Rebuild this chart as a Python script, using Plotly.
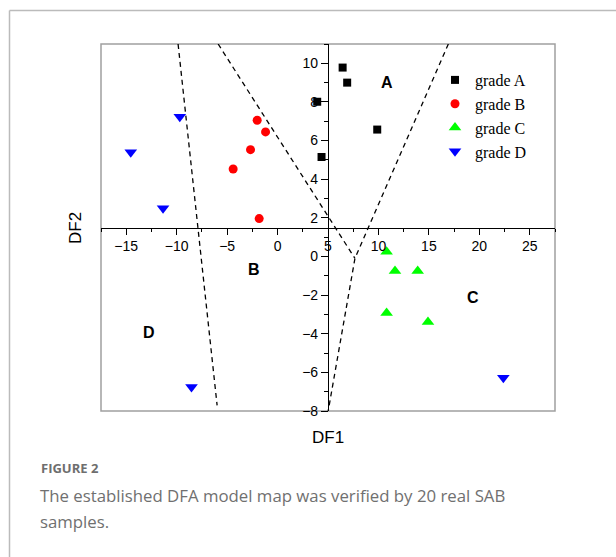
import plotly.graph_objects as go

# ---- data ----
gradeA_x = [6.45, 6.9, 3.93, 9.88, 4.36]
gradeA_y = [9.78, 9.0, 8.01, 6.57, 5.15]
gradeB_x = [-2.02, -1.19, -2.68, -4.4, -1.82]
gradeB_y = [7.05, 6.45, 5.53, 4.53, 1.96]
gradeC_x = [10.81, 11.64, 13.89, 10.81, 14.91]
gradeC_y = [0.25, -0.75, -0.75, -2.92, -3.39]
gradeD_x = [-9.69, -14.55, -11.35, -8.53, 22.38]
gradeD_y = [7.23, 5.39, 2.5, -6.76, -6.28]

boundary1_x = [-9.86, -5.99]
boundary1_y = [11.0, -7.71]
boundary2_x = [-5.89, 7.67]
boundary2_y = [11.0, -0.1]
boundary3_x = [16.93, 7.67, 5.02]
boundary3_y = [11.0, -0.1, -8.0]

region_labels = ["A", "B", "C", "D"]
region_x = [10.8, -2.35, 19.4, -12.77]
region_y = [9.0, -0.67, -2.12, -3.96]

x_ticks = [-15, -10, -5, 0, 5, 10, 15, 20, 25]
y_ticks = [-8, -6, -4, -2, 0, 2, 4, 6, 8, 10]

# ---- layout geometry (pixels) ----
W, H = 616, 557
L, R, T, B = 101, 555, 44, 411


def px(xp):
    return (xp - L) / (R - L)


def py(yp):
    return (B - yp) / (B - T)


fig = go.Figure()

dash_style = dict(color="black", width=1.3, dash="5px,4px")
for bx, by in [(boundary1_x, boundary1_y), (boundary2_x, boundary2_y), (boundary3_x, boundary3_y)]:
    fig.add_trace(go.Scatter(x=bx, y=by, mode="lines", line=dash_style,
                             showlegend=False, hoverinfo="skip"))

fig.add_trace(go.Scatter(x=gradeA_x, y=gradeA_y, mode="markers", name="grade A",
                         marker=dict(symbol="square", size=8, color="black")))
fig.add_trace(go.Scatter(x=gradeB_x, y=gradeB_y, mode="markers", name="grade B",
                         marker=dict(symbol="circle", size=9, color="#ff0000")))
fig.add_trace(go.Scatter(x=gradeC_x, y=gradeC_y, mode="markers", name="grade C",
                         marker=dict(symbol="triangle-up", size=11, color="#00ff00")))
fig.add_trace(go.Scatter(x=gradeD_x, y=gradeD_y, mode="markers", name="grade D",
                         marker=dict(symbol="triangle-down", size=11, color="#0000ff")))

for lab, lx, ly in zip(region_labels, region_x, region_y):
    fig.add_annotation(x=lx, y=ly, text="<b>%s</b>" % lab, showarrow=False,
                       xanchor="center", yanchor="middle",
                       font=dict(family="Liberation Sans, Arial", size=16, color="black"))

axis_common = dict(showgrid=False, zeroline=False, showline=True, linecolor="black",
                   linewidth=1.2, ticks="outside", tickcolor="black", tickwidth=1,
                   tickfont=dict(family="Liberation Sans, Arial", size=14, color="black"),
                   anchor="free", position=0.5)

fig.update_xaxes(range=[-17.5, 27.5], tickvals=x_ticks, ticklen=6,
                 minor=dict(dtick=2.5, tick0=0, ticklen=3, ticks="outside", tickcolor="black"),
                 **axis_common)
fig.update_yaxes(range=[-8, 11], tickvals=y_ticks, ticklen=7,
                 minor=dict(dtick=1, tick0=0, ticklen=4, ticks="outside", tickcolor="black"),
                 **axis_common)

# plot box
fig.add_shape(type="rect", xref="paper", yref="paper", x0=0, x1=1, y0=0, y1=1,
              line=dict(color="#a0a0a0", width=1.5), layer="below")
# outer figure frame
fig.add_shape(type="line", xref="paper", yref="paper", x0=px(9.5), x1=px(W + 5),
              y0=py(10.5), y1=py(10.5), line=dict(color="#bbbbbb", width=1.5))
fig.add_shape(type="line", xref="paper", yref="paper", x0=px(9.5), x1=px(9.5),
              y0=py(10.5), y1=py(H + 5), line=dict(color="#bbbbbb", width=1.5))

# axis titles
fig.add_annotation(xref="paper", yref="paper", x=px(328), y=py(437), text="DF1",
                   xanchor="center", yanchor="middle", showarrow=False,
                   font=dict(family="Liberation Sans, Arial", size=17, color="black"))
fig.add_annotation(xref="paper", yref="paper", x=px(75), y=py(228), text="DF2", textangle=-90,
                   xanchor="center", yanchor="middle", showarrow=False,
                   font=dict(family="Liberation Sans, Arial", size=17, color="black"))

# caption
fig.add_annotation(xref="paper", yref="paper", x=px(39), y=py(468), xanchor="left", yanchor="middle",
                   text="<b>FIGURE 2</b>", showarrow=False,
                   font=dict(family="Open Sans", size=13, color="#6e6e6e"))
fig.add_annotation(xref="paper", yref="paper", x=px(38), y=py(495), xanchor="left", yanchor="middle",
                   text="The established DFA model map was verified by 20 real SAB",
                   showarrow=False, align="left",
                   font=dict(family="Open Sans", size=16.8, color="#707070"))
fig.add_annotation(xref="paper", yref="paper", x=px(38), y=py(521), xanchor="left", yanchor="middle",
                   text="samples.",
                   showarrow=False, align="left",
                   font=dict(family="Open Sans", size=16.8, color="#707070"))

fig.update_layout(
    width=W, height=H,
    margin=dict(l=L, r=W - R, t=T, b=H - B),
    plot_bgcolor="white", paper_bgcolor="white",
    showlegend=True,
    legend=dict(x=px(435), y=py(63), xanchor="left", yanchor="top",
                bgcolor="rgba(0,0,0,0)", borderwidth=0,
                font=dict(family="Liberation Serif, Times New Roman", size=16, color="black"),
                itemwidth=30, tracegroupgap=0),
)

fig.write_html("out.html", config={"displayModeBar": False},
               post_script="document.body.style.margin='0px';document.body.style.overflow='hidden';")
